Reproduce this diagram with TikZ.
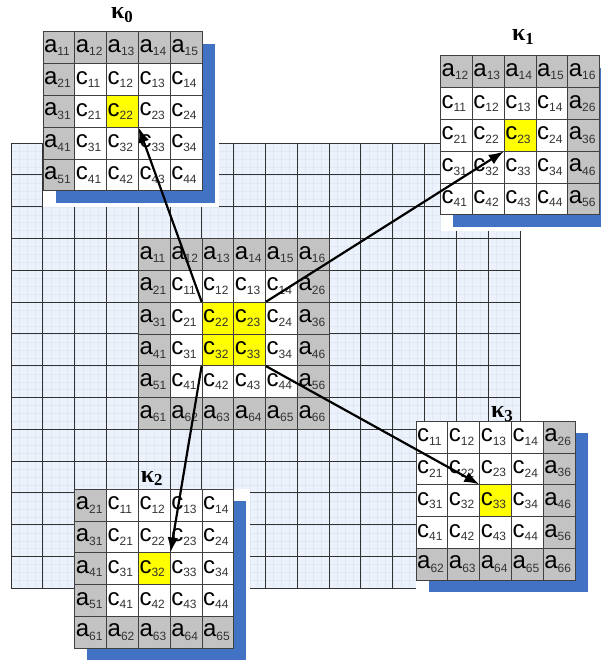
\documentclass[tikz,border=0pt]{standalone}
\usepackage{fontspec}
\setmainfont{Liberation Sans}
\newfontfamily\kapfont{Liberation Serif}
\usepackage{xcolor}
\usepackage{tikz}
\usetikzlibrary{arrows.meta,positioning,calc}

\definecolor{bord}{RGB}{195,195,195}
\definecolor{hit}{RGB}{255,255,0}
\definecolor{shadowblue}{RGB}{66,114,196}
\definecolor{gridfill}{RGB}{236,242,251}
\definecolor{finegrid}{RGB}{224,232,246}

\newcommand{\entry}[2]{#1\raisebox{-3.5pt}{\fontsize{12}{12}\selectfont\color{black!80}#2}}

% block of cells: name, left, top, columns, cells
\newcommand{\cellblock}[5]{%
  \foreach \lab/\sub/\fil [count=\n from 0] in {#5} {
    \pgfmathtruncatemacro{\rw}{floor(\n/#4)}
    \pgfmathtruncatemacro{\cl}{mod(\n,#4)}
    \node[cell,fill=\fil] (#1-\lab\sub) at (#2+\cl+0.5,#3+\rw+0.5) {\entry{\lab}{\sub}};
  }%
}

\begin{document}
\begin{tikzpicture}[x=31.8pt,y=-31.8pt,
  cell/.style={draw=black!75,line width=0.7pt,minimum width=31.8pt,minimum height=31.8pt,
    inner sep=0pt,text width=29.5pt,align=left,font=\fontsize{24}{24}\selectfont},
  kap/.style={font=\kapfont\bfseries\fontsize{24}{24}\selectfont,anchor=base,inner sep=0pt},
  link/.style={-{Latex[length=15pt,width=11pt]},line width=2.2pt}]
  \useasboundingbox (0,0) rectangle (18.87,20.94);

  % background grid
  \fill[gridfill] (0.35,4.5) rectangle (16.35,18.5);
  \foreach \i in {0,0.25,...,16}
    \draw[finegrid,line width=0.3pt] (0.35+\i,4.5) -- (0.35+\i,18.5);
  \foreach \j in {0,0.25,...,14}
    \draw[finegrid,line width=0.3pt] (0.35,4.5+\j) -- (16.35,4.5+\j);
  \foreach \i in {0,...,16}
    \draw[black!80,line width=1pt] (0.35+\i,4.5) -- (0.35+\i,18.5);
  \foreach \j in {0,...,14}
    \draw[black!80,line width=1pt] (0.35,4.5+\j) -- (16.35,4.5+\j);

  % middle block
  \cellblock{m}{4.35}{7.5}{6}{a/11/bord,a/12/bord,a/13/bord,a/14/bord,a/15/bord,a/16/bord,
    a/21/bord,c/11/white,c/12/white,c/13/white,c/14/white,a/26/bord,
    a/31/bord,c/21/white,c/22/hit,c/23/hit,c/24/white,a/36/bord,
    a/41/bord,c/31/white,c/32/hit,c/33/hit,c/34/white,a/46/bord,
    a/51/bord,c/41/white,c/42/white,c/43/white,c/44/white,a/56/bord,
    a/61/bord,a/62/bord,a/63/bord,a/64/bord,a/65/bord,a/66/bord}

  % kappa 0
  \fill[white] (1.35,1) rectangle (6.87,6.5);
  \fill[shadowblue] (1.75,1.38) rectangle (6.75,6.38);
  \cellblock{k0}{1.35}{1}{5}{a/11/bord,a/12/bord,a/13/bord,a/14/bord,a/15/bord,
    a/21/bord,c/11/white,c/12/white,c/13/white,c/14/white,
    a/31/bord,c/21/white,c/22/hit,c/23/white,c/24/white,
    a/41/bord,c/31/white,c/32/white,c/33/white,c/34/white,
    a/51/bord,c/41/white,c/42/white,c/43/white,c/44/white}
  \node[kap] (k0lab) at (3.84,0.58) {κ\textsubscript{0}};

  % kappa 1
  \fill[white] (13.85,1.75) rectangle (19.4,7.25);
  \fill[shadowblue] (14.25,2.13) rectangle (19.25,7.13);
  \cellblock{k1}{13.85}{1.75}{5}{a/12/bord,a/13/bord,a/14/bord,a/15/bord,a/16/bord,
    c/11/white,c/12/white,c/13/white,c/14/white,a/26/bord,
    c/21/white,c/22/white,c/23/hit,c/24/white,a/36/bord,
    c/31/white,c/32/white,c/33/white,c/34/white,a/46/bord,
    c/41/white,c/42/white,c/43/white,c/44/white,a/56/bord}
  \node[kap] (k1lab) at (16.45,1.28) {κ\textsubscript{1}};

  % kappa 2
  \fill[white] (2.35,15.38) rectangle (7.87,20.9);
  \fill[shadowblue] (2.75,15.76) rectangle (7.75,20.76);
  \cellblock{k2}{2.35}{15.38}{5}{a/21/bord,c/11/white,c/12/white,c/13/white,c/14/white,
    a/31/bord,c/21/white,c/22/white,c/23/white,c/24/white,
    a/41/bord,c/31/white,c/32/hit,c/33/white,c/34/white,
    a/51/bord,c/41/white,c/42/white,c/43/white,c/44/white,
    a/61/bord,a/62/bord,a/63/bord,a/64/bord,a/65/bord}
  \node[kap] (k2lab) at (4.78,15.16) {κ\textsubscript{2}};

  % kappa 3
  \fill[white] (13.08,13.24) rectangle (18.6,18.74);
  \fill[shadowblue] (13.48,13.62) rectangle (18.48,18.62);
  \cellblock{k3}{13.08}{13.24}{5}{c/11/white,c/12/white,c/13/white,c/14/white,a/26/bord,
    c/21/white,c/22/white,c/23/white,c/24/white,a/36/bord,
    c/31/white,c/32/white,c/33/hit,c/34/white,a/46/bord,
    c/41/white,c/42/white,c/43/white,c/44/white,a/56/bord,
    a/62/bord,a/63/bord,a/64/bord,a/65/bord,a/66/bord}
  \node[kap] (k3lab) at (15.79,13.14) {κ\textsubscript{3}};

  \draw[link] (m-c22.north west) -- (k0-c22.south east);
  \draw[link] (m-c23.north east) -- (k1-c23.south west);
  \draw[link] (m-c32.south west) -- (k2-c32.north east);
  \draw[link] (m-c33.south east) -- (k3-c33.north west);
\end{tikzpicture}
\end{document}
